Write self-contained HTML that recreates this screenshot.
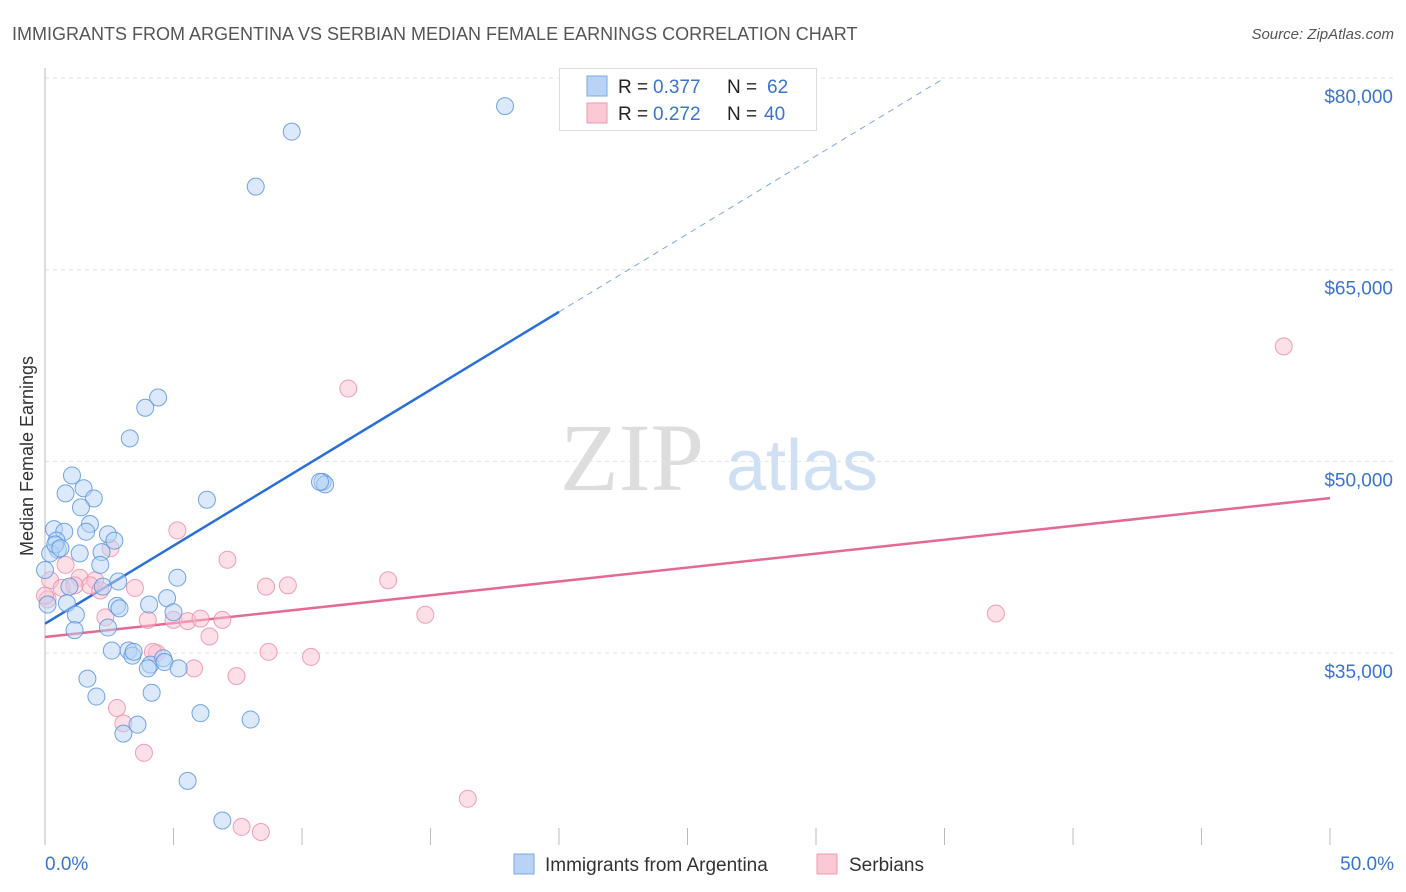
<!DOCTYPE html>
<html><head><meta charset="utf-8"><style>
body{margin:0;background:#fff;font-family:"Liberation Sans",sans-serif;}
svg{display:block}
</style></head><body>
<svg id="c" width="1406" height="892">
<text x="12" y="40" font-size="18" fill="#555">IMMIGRANTS FROM ARGENTINA VS SERBIAN MEDIAN FEMALE EARNINGS CORRELATION CHART</text>
<text x="1394" y="39" font-size="15" fill="#555" font-style="italic" text-anchor="end">Source: ZipAtlas.com</text>
<text x="33" y="456" font-size="18" fill="#333" text-anchor="middle" transform="rotate(-90 33 456)">Median Female Earnings</text>
<g>
<text x="632" y="490" font-size="96" fill="#ddd" font-family="Liberation Serif" text-anchor="middle">ZIP</text>
<text x="802" y="490" font-size="72" fill="#cfe0f5" text-anchor="middle">atlas</text>
</g>
<g id="grid"></g><g id="ticks"></g><g id="lines"></g><g id="pts"></g>
<g>
<rect x="559.5" y="68.5" width="257" height="62" fill="#fff" stroke="#ddd"/>
<rect x="587" y="76" width="20" height="20" fill="#b8d3f5" stroke="#7aa8e6"/>
<rect x="587" y="103" width="20" height="20" fill="#fbc8d6" stroke="#ee9ab3"/>
<text x="618" y="93" font-size="19" fill="#222">R =</text>
<text x="653" y="93" font-size="19" fill="#3a74d0">0.377</text>
<text x="727" y="93" font-size="19" fill="#222">N =</text>
<text x="767" y="93" font-size="19" fill="#3a74d0">62</text>
<text x="618" y="120" font-size="19" fill="#222">R =</text>
<text x="653" y="120" font-size="19" fill="#3a74d0">0.272</text>
<text x="727" y="120" font-size="19" fill="#222">N =</text>
<text x="764" y="120" font-size="19" fill="#3a74d0">40</text>
</g>
<g>
<rect x="514" y="854" width="20" height="20" fill="#b8d3f5" stroke="#7aa8e6"/>
<text x="545" y="871" font-size="19" fill="#333">Immigrants from Argentina</text>
<rect x="817" y="854" width="20" height="20" fill="#fbc8d6" stroke="#ee9ab3"/>
<text x="849" y="871" font-size="19" fill="#333">Serbians</text>
</g>
<text x="45" y="870" font-size="19" fill="#3a74d0">0.0%</text>
<text x="1394" y="870" font-size="19" fill="#3a74d0" text-anchor="end">50.0%</text>
</svg>
<script>
const yTicks=[80000,65000,50000,35000];
const yTickLabels=["$80,000","$65,000","$50,000","$35,000"];
const xTicks=[0,5,10,15,20,25,30,35,40,45,50];
const blueX=[17.9,9.6,8.2,4.4,3.9,3.3,1.05,0.8,1.5,1.9,1.4,6.3,10.8,10.9,0.35,0.75,1.75,1.6,2.45,2.7,0.45,0.5,0.2,1.35,2.2,2.15,2.85,5.15,0.95,2.25,2.8,2.9,4.05,4.75,5.0,0.85,1.2,2.45,1.15,2.6,3.25,3.4,3.45,4.1,4.0,4.6,4.65,5.2,1.65,2.0,4.15,6.05,8.0,3.6,3.05,5.55,6.9,0.1,0.0,0.4,0.6,10.7];
const blueY=[77800,75800,71500,55000,54200,51800,48900,47500,47900,47100,46400,47000,48400,48200,44700,44500,45100,44500,44300,43800,43800,43100,42800,42800,42900,41900,40600,40900,40200,40200,38700,38500,38800,39300,38200,38900,38000,37000,36800,35200,35200,34800,35100,34100,33800,34600,34300,33800,33000,31600,31900,30300,29800,29400,28700,25000,21900,38800,41500,43500,43200,48400];
const pinkX=[48.2,11.8,5.15,2.55,7.1,0.8,1.35,0.2,0.65,1.95,3.5,8.6,9.45,13.35,14.8,37.0,2.35,4.0,5.0,5.55,6.05,6.9,6.4,5.8,8.7,10.35,4.35,7.45,2.8,3.05,3.85,16.45,7.65,8.4,0.1,0.0,1.75,4.2,2.15,1.15];
const pinkY=[59000,55700,44600,43200,42300,41900,40900,40700,40100,40700,40100,40200,40300,40700,38000,38100,37800,37600,37600,37500,37700,37600,36300,33800,35100,34700,35000,33200,30700,29500,27200,23600,21400,21000,39200,39500,40300,35100,39900,40300];
const blueTrend=[37300,61700]; // values at x=0 and x=20
const blueDashEnd=35;
const pinkTrend=[36260,47130]; // values at x=0 and x=50

const NS="http://www.w3.org/2000/svg";
const X=v=>45+v*25.7;
const Y=v=>78+(80000-v)/15000*191.7;
function mk(tag,attrs,parent){const e=document.createElementNS(NS,tag);for(const k in attrs)e.setAttribute(k,attrs[k]);parent.appendChild(e);return e;}
const grid=document.getElementById('grid'),ticks=document.getElementById('ticks'),lines=document.getElementById('lines'),pts=document.getElementById('pts');
yTicks.forEach((t,i)=>{
  const l=mk('line',{x1:45,x2:1394,y1:Y(t),y2:Y(t),stroke:'#e2e2e2','stroke-dasharray':'4,4'},grid);
  
  
  const tx=mk('text',{x:1393,y:Y(t)+25,'font-size':19,fill:'#3a74d0','text-anchor':'end'},grid);
  tx.textContent=yTickLabels[i];
  
  
});
const ax=mk('line',{x1:45,x2:45,y1:68,y2:845,stroke:'#bbb'},ticks);


xTicks.forEach(t=>{
  const l=mk('line',{x1:X(t),x2:X(t),y1:828,y2:845,stroke:'#bbb'},ticks);
  
  
});
function dots(xs,ys,fill,stroke,name){
  xs.forEach((x,i)=>{
    const c=mk('circle',{cx:X(x),cy:Y(ys[i]),r:8.5,fill:fill,'fill-opacity':0.5,stroke:stroke,'stroke-width':1,'stroke-opacity':0.85},pts);
    
    
  });
}
dots(pinkX,pinkY,'#f9c0d0','#ec8fab','serbian-point');
dots(blueX,blueY,'#b8d3f5','#5b95e0','argentina-point');
const slope=(blueTrend[1]-blueTrend[0])/20;
const bl=mk('line',{x1:X(0),y1:Y(blueTrend[0]),x2:X(20),y2:Y(blueTrend[1]),stroke:'#2a6fd6','stroke-width':2.5},lines);


const bd=mk('line',{x1:X(20),y1:Y(blueTrend[1]),x2:X(blueDashEnd),y2:Y(blueTrend[0]+slope*blueDashEnd),stroke:'#7aa8e6','stroke-width':1,'stroke-dasharray':'6,5'},lines);


const pl=mk('line',{x1:X(0),y1:Y(pinkTrend[0]),x2:X(50),y2:Y(pinkTrend[1]),stroke:'#e46a95','stroke-width':2.5},lines);


</script>
</body></html>
